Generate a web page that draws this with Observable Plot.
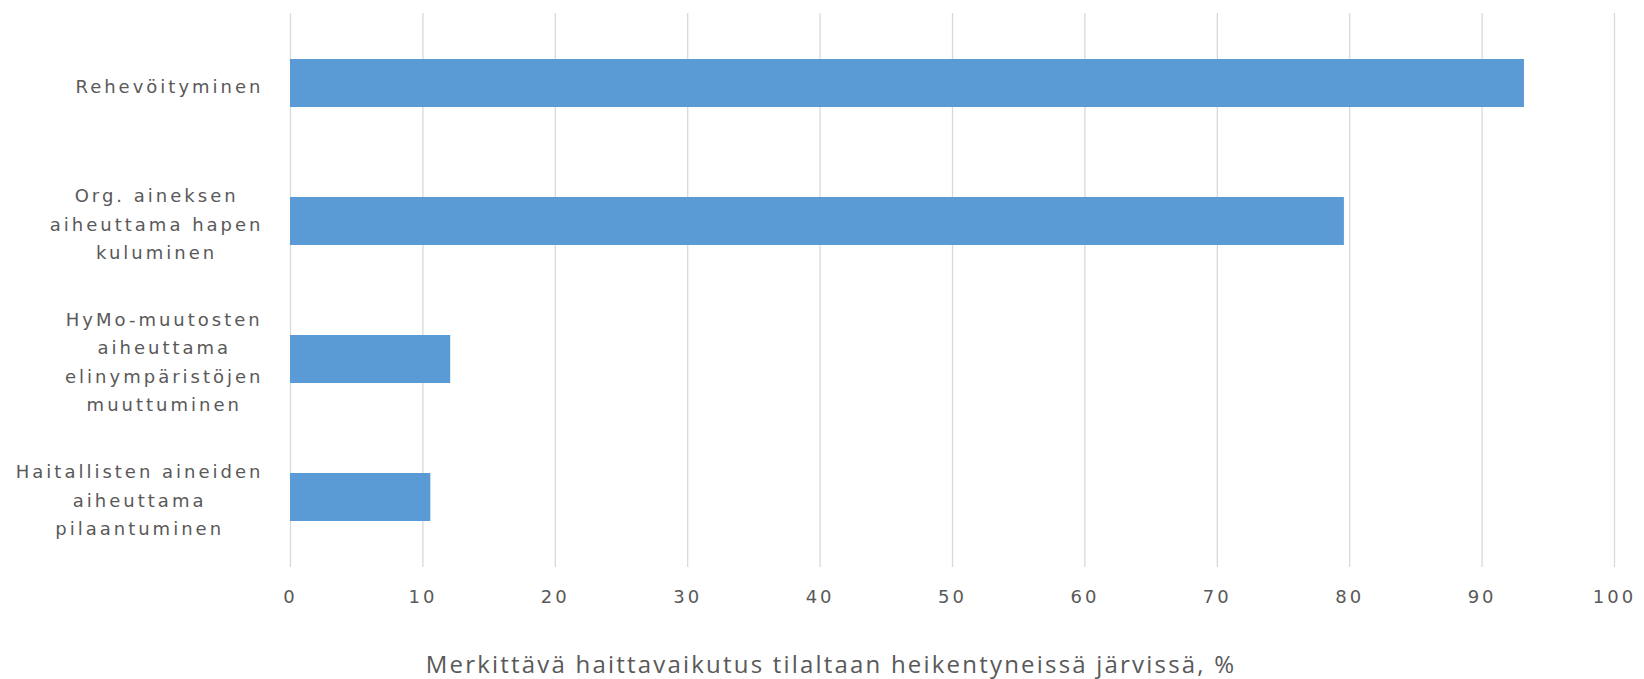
<!DOCTYPE html>
<html><head><meta charset="utf-8">
<script src="https://cdn.jsdelivr.net/npm/d3@7"></script>
<script src="https://cdn.jsdelivr.net/npm/@observablehq/plot@0.6"></script>
<style>
html,body{margin:0;padding:0;background:#fff;}
#chart{width:1644px;height:645px;}
.hv text{letter-spacing:3px;}
#title{font-family:"Open Sans",sans-serif;font-size:24px;color:#595959;text-align:center;box-sizing:border-box;padding-left:18px;width:1644px;line-height:38px;height:38px;letter-spacing:2.2px;}
</style></head>
<body>
<div id="chart"></div>
<div id="title"></div>
<script>
// ---- data ----
const categories = [
  "Rehevöityminen",
  "Org. aineksen\naiheuttama hapen\nkuluminen",
  "HyMo-muutosten\naiheuttama\nelinympäristöjen\nmuuttuminen",
  "Haitallisten aineiden\naiheuttama\npilaantuminen"
];
const values = [93.2, 79.6, 12.1, 10.6];
const xTicks = [0, 10, 20, 30, 40, 50, 60, 70, 80, 90, 100];
const axisTitle = "Merkittävä haittavaikutus tilaltaan heikentyneissä järvissä, %";

// ---- layout helpers ----
const labelFont = '"DejaVu Sans"';
const labelSize = 18, labelSpacing = 3, textColor = "#595959";
const ctx = document.createElement("canvas").getContext("2d");
ctx.font = `${labelSize}px ${labelFont}`;
ctx.letterSpacing = `${labelSpacing}px`;
const blockWidth = s => Math.max(...s.split("\n").map(l => ctx.measureText(l).width));

const rows = categories.map((c, i) => ({category: c, value: values[i]}));

const chart = Plot.plot({
  width: 1644,
  height: 645,
  marginLeft: 290,
  marginRight: 30,
  marginTop: 13,
  marginBottom: 78,
  className: "hv",
  style: {fontFamily: `${labelFont}, sans-serif`, color: textColor, background: "#fff"},
  x: {domain: [0, 100], ticks: xTicks, label: null},
  y: {domain: categories, paddingInner: 0.65, paddingOuter: 0.325, axis: null},
  marks: [
    Plot.gridX(xTicks, {stroke: "#d9d9d9", strokeOpacity: 1, strokeWidth: 1.3}),
    Plot.barX(rows, {y: "category", x: "value", fill: "#5b9bd5"}),
    Plot.axisX(xTicks, {anchor: "bottom", tickSize: 0, tickPadding: 23, fontSize: labelSize, fill: textColor, label: null}),
    ...categories.map(c => Plot.text([c], {
      y: d => d, text: d => d,
      frameAnchor: "left", textAnchor: "middle", lineAnchor: "middle",
      lineHeight: 1.58, fontSize: labelSize, fill: textColor,
      dx: -(27 + blockWidth(c) / 2)
    }))
  ]
});
document.getElementById("chart").append(chart);
document.getElementById("title").textContent = axisTitle;
</script>
</body></html>
